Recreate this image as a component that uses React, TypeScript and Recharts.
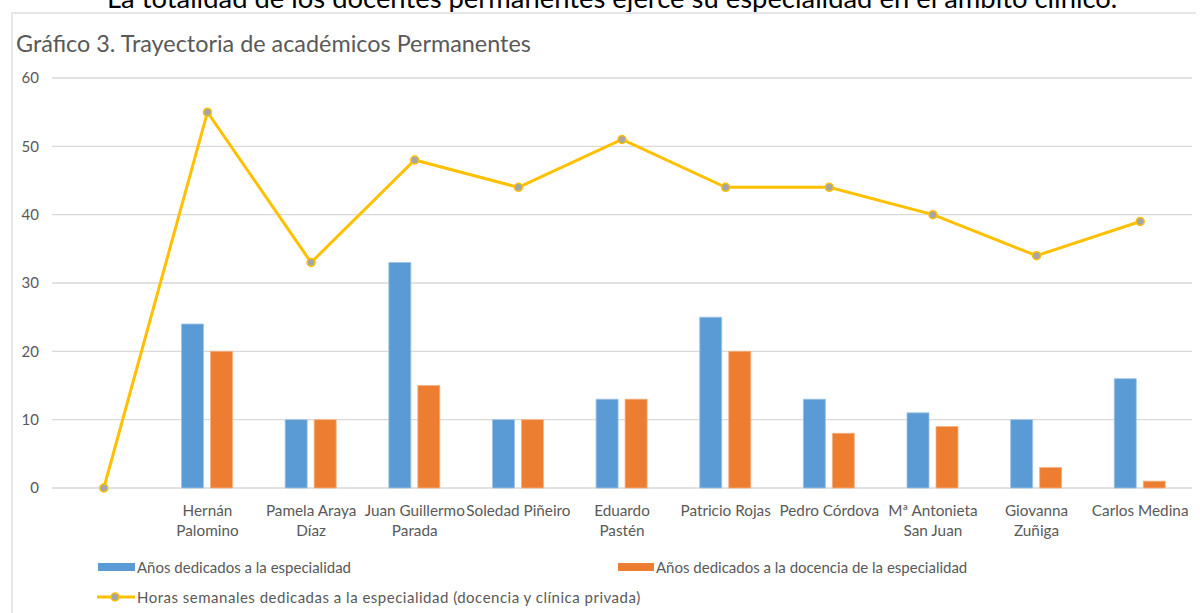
import React from 'react';
import { ComposedChart, Bar, Line, XAxis, YAxis, CartesianGrid, Legend } from 'recharts';

const categories = ["", "Hernán Palomino", "Pamela Araya Díaz", "Juan Guillermo Parada", "Soledad Piñeiro", "Eduardo Pastén", "Patricio Rojas", "Pedro Córdova", "Mª Antonieta San Juan", "Giovanna Zuñiga", "Carlos Medina"];
const tickLines: string[][] = [[], ["Hernán", "Palomino"], ["Pamela Araya", "Díaz"], ["Juan Guillermo", "Parada"], ["Soledad Piñeiro"], ["Eduardo", "Pastén"], ["Patricio Rojas"], ["Pedro Córdova"], ["Mª Antonieta", "San Juan"], ["Giovanna", "Zuñiga"], ["Carlos Medina"]];
const aniosEspecialidad = [null, 24, 10, 33, 10, 13, 25, 13, 11, 10, 16];
const aniosDocencia = [null, 20, 10, 15, 10, 13, 20, 8, 9, 3, 1];
const horasSemanales = [0, 55, 33, 48, 44, 51, 44, 44, 40, 34, 39];
const yTicks = [0, 10, 20, 30, 40, 50, 60];

const seriesNames = {
  esp: "Años dedicados a la especialidad",
  doc: "Años dedicados a la docencia de la especialidad",
  horas: "Horas semanales dedicadas a la especialidad (docencia y clínica privada)",
};

const data = categories.map((name, i) => ({
  name,
  esp: aniosEspecialidad[i],
  doc: aniosDocencia[i],
  horas: horasSemanales[i],
}));

const FONT = "Lato, 'Noto Sans', sans-serif";
const GREY = "#595959";

const CategoryTick = (props: any) => {
  const { x, y, payload } = props;
  const lines = tickLines[payload.index] || [];
  return (
    <g transform={`translate(${x},${y})`}>
      {lines.map((l, i) => (
        <text key={i} x={0} y={20 + i * 20} textAnchor="middle" fill={GREY} fontSize={15.3} fontFamily={FONT}>
          {l}
        </text>
      ))}
    </g>
  );
};

const LegendContent = () => {
  const txt: React.CSSProperties = { position: 'absolute', fontSize: 15, color: GREY, fontFamily: FONT, whiteSpace: 'nowrap', lineHeight: '16px' };
  return (
    <div style={{ position: 'relative', width: 1200, height: 56 }}>
      <div style={{ position: 'absolute', left: 98, top: 8, width: 37, height: 8, background: '#5B9BD5' }} />
      <div style={{ ...txt, left: 137, top: 4 }}>{seriesNames.esp}</div>
      <div style={{ position: 'absolute', left: 618, top: 8, width: 36, height: 8, background: '#ED7D31' }} />
      <div style={{ ...txt, left: 656, top: 4 }}>{seriesNames.doc}</div>
      <svg style={{ position: 'absolute', left: 96, top: 36 }} width={40} height={12}>
        <line x1={1} y1={6} x2={39} y2={6} stroke="#FFC000" strokeWidth={3} />
        <circle cx={19} cy={6} r={4} fill="#A5A5A5" stroke="#FFC000" strokeWidth={1.5} />
      </svg>
      <div style={{ ...txt, left: 137, top: 34, letterSpacing: 0.5 }}>{seriesNames.horas}</div>
    </div>
  );
};

export default function App() {
  return (
    <div style={{ position: 'absolute', top: 0, left: 0, width: 1200, height: 613, overflow: 'hidden', background: '#fff' }}>
      <div style={{ position: 'absolute', left: 107, top: -18, fontSize: 27.4, lineHeight: '32px', fontFamily: FONT, color: '#000', whiteSpace: 'nowrap' }}>
        La totalidad de los docentes permanentes ejerce su especialidad en el ámbito clínico.
      </div>
      <div style={{ position: 'absolute', left: 11, top: 12, width: 1183, height: 700, borderTop: '2px solid #E6E6E6', borderLeft: '2px solid #E6E6E6' }} />
      <div style={{ position: 'absolute', left: 16, top: 29, fontSize: 23.4, fontFamily: FONT, color: GREY, whiteSpace: 'nowrap' }}>
        Gráfico 3. Trayectoria de académicos Permanentes
      </div>
      <div style={{ position: 'absolute', left: 0, top: 0 }}>
        <ComposedChart width={1200} height={613} data={data} margin={{ top: 78, right: 8, bottom: 60, left: 12 }} barCategoryGap="25%" barGap={7}>
          <CartesianGrid vertical={false} stroke="#D9D9D9" strokeWidth={1.3} />
          <XAxis dataKey="name" axisLine={false} tickLine={false} interval={0} height={65} tick={<CategoryTick />} />
          <YAxis domain={[0, 60]} ticks={yTicks} axisLine={false} tickLine={false} width={40} tickMargin={7} tick={{ fill: GREY, fontSize: 15, fontFamily: FONT }} />
          <Legend layout="vertical" align="center" verticalAlign="middle" content={<LegendContent />} wrapperStyle={{ position: 'absolute', top: 555, left: 0, width: 1200, height: 56 }} />
          <Bar dataKey="esp" name={seriesNames.esp} fill="#5B9BD5" stroke="#9DC3E6" strokeWidth={0.8} isAnimationActive={false} />
          <Bar dataKey="doc" name={seriesNames.doc} fill="#ED7D31" stroke="#F4B183" strokeWidth={0.8} isAnimationActive={false} />
          <Line dataKey="horas" name={seriesNames.horas} stroke="#FFC000" strokeWidth={3} dot={{ r: 4, fill: '#A5A5A5', stroke: '#FFC000', strokeWidth: 1.5 }} isAnimationActive={false} />
        </ComposedChart>
      </div>
    </div>
  );
}
